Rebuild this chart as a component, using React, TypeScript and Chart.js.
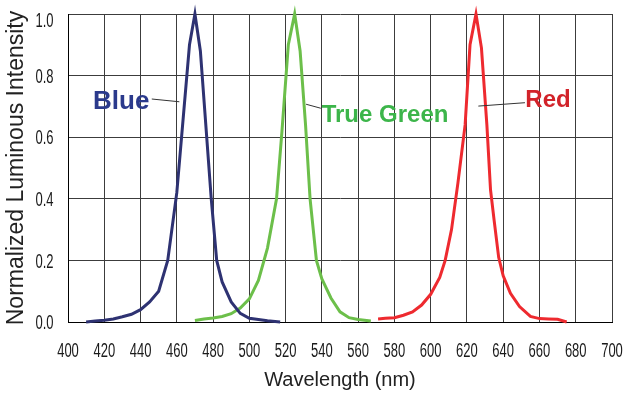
import { useEffect, useRef } from "react";
import { Chart, registerables } from "chart.js";

Chart.register(...registerables);

const xMin = 400;
const xMax = 700;
const xStep = 20;
const yMin = 0;
const yMax = 1;
const yStep = 0.2;

const blueNm = [410, 415, 420, 425, 430, 435, 440, 445, 450, 455, 460, 467, 470, 473, 479, 482, 485, 490, 495, 500, 505, 510, 517];
const blueVal = [0, 0.003, 0.006, 0.01, 0.017, 0.025, 0.04, 0.065, 0.1, 0.2, 0.42, 0.9, 1.0, 0.88, 0.4, 0.2, 0.13, 0.065, 0.028, 0.012, 0.008, 0.004, 0];

const greenNm = [470, 475, 480, 485, 490, 495, 500, 505, 510, 515, 518, 521.5, 525, 528, 531, 533.5, 537, 540, 545, 550, 555, 560, 567];
const greenVal = [0.005, 0.01, 0.013, 0.018, 0.027, 0.045, 0.075, 0.135, 0.24, 0.4, 0.62, 0.9, 1.0, 0.88, 0.64, 0.4, 0.2, 0.14, 0.078, 0.033, 0.014, 0.008, 0.003];

const redNm = [571, 575, 580, 585, 590, 595, 600, 605, 608, 611.5, 615, 619, 621.7, 625, 628, 631, 633, 635, 637.5, 640, 644, 649, 655, 660, 665, 670, 675];
const redVal = [0.01, 0.012, 0.014, 0.022, 0.033, 0.055, 0.09, 0.145, 0.2, 0.3, 0.45, 0.64, 0.9, 1.0, 0.89, 0.64, 0.43, 0.33, 0.21, 0.15, 0.093, 0.05, 0.018, 0.011, 0.01, 0.009, 0];

const seriesNames = ["Blue", "True Green", "Red"];

const toPoints = (nm: number[], v: number[]) => nm.map((x, i) => ({ x, y: v[i] }));

const condensedTicksPlugin = {
  id: "condensedTicks",
  afterDraw(chart: any) {
    const { ctx, scales } = chart;
    const xs = scales.x;
    const ys = scales.y;
    const squeeze = 0.65;
    ctx.save();
    ctx.font = '20px "Liberation Sans", Arial, sans-serif';
    ctx.fillStyle = "#1a1a1a";
    ctx.textBaseline = "alphabetic";
    xs.ticks.forEach((t: any, i: number) => {
      const px = xs.getPixelForTick(i);
      ctx.save();
      ctx.translate(px, xs.top + 35);
      ctx.scale(squeeze, 1);
      ctx.textAlign = "center";
      ctx.fillText(String(t.value), 0, 0);
      ctx.restore();
    });
    ys.ticks.forEach((t: any, i: number) => {
      const py = Math.max(ys.getPixelForTick(i), 19.5);
      ctx.save();
      ctx.translate(ys.right - 14.5, py + 7.1);
      ctx.scale(squeeze, 1);
      ctx.textAlign = "right";
      ctx.fillText(Number(t.value).toFixed(1), 0, 0);
      ctx.restore();
    });
    ctx.restore();
  },
};

const labelPlugin = {
  id: "seriesLabels",
  afterDatasetsDraw(chart: any) {
    const { ctx, scales } = chart;
    const xs = scales.x;
    const ys = scales.y;
    const items = [
      { text: seriesNames[0], color: "#2b3a8c", size: 26, at: [413.8, 0.69], line: [[446.2, 0.724], [461.4, 0.715]] },
      { text: seriesNames[1], color: "#3cb54a", size: 24, at: [539.9, 0.65], line: [[531.3, 0.707], [539.4, 0.694]] },
      { text: seriesNames[2], color: "#d2232a", size: 24, at: [652.2, 0.697], line: [[626.3, 0.701], [652, 0.712]] },
    ];
    ctx.save();
    for (const it of items) {
      ctx.beginPath();
      ctx.strokeStyle = "#333";
      ctx.lineWidth = 1;
      ctx.moveTo(xs.getPixelForValue(it.line[0][0]), ys.getPixelForValue(it.line[0][1]));
      ctx.lineTo(xs.getPixelForValue(it.line[1][0]), ys.getPixelForValue(it.line[1][1]));
      ctx.stroke();
      ctx.font = `bold ${it.size}px "Liberation Sans", Arial, sans-serif`;
      ctx.fillStyle = it.color;
      ctx.textBaseline = "alphabetic";
      ctx.textAlign = "left";
      ctx.fillText(it.text, xs.getPixelForValue(it.at[0]), ys.getPixelForValue(it.at[1]));
    }
    ctx.restore();
  },
};

export default function App() {
  const ref = useRef<HTMLCanvasElement | null>(null);
  useEffect(() => {
    document.body.style.margin = "0";
    if (!ref.current) return;
    const chart = new Chart(ref.current, {
      type: "line",
      data: {
        datasets: [
          { label: seriesNames[0], data: toPoints(blueNm, blueVal), borderColor: "#2e3272", borderWidth: 3, pointRadius: 0, tension: 0, clip: false } as any,
          { label: seriesNames[1], data: toPoints(greenNm, greenVal), borderColor: "#6cbf4a", borderWidth: 3, pointRadius: 0, tension: 0, clip: false } as any,
          { label: seriesNames[2], data: toPoints(redNm, redVal), borderColor: "#ee2a2f", borderWidth: 3, pointRadius: 0, tension: 0, clip: false } as any,
        ],
      },
      options: {
        animation: false,
        responsive: false,
        devicePixelRatio: 1,
        layout: { padding: { top: 14, right: 11, left: 0, bottom: 0 } },
        plugins: { legend: { display: false }, tooltip: { enabled: false } },
        scales: {
          x: {
            type: "linear",
            min: xMin,
            max: xMax,
            ticks: { stepSize: xStep, display: false },
            grid: { color: "#3c3c3c", lineWidth: 1, drawTicks: false },
            border: { color: "#000", width: 1 },
            title: { display: true, text: "Wavelength (nm)", color: "#222", font: { family: '"Liberation Sans", Arial, sans-serif', size: 20 }, padding: { top: 0, bottom: 2 } },
            afterFit: (s: any) => { s.height = 72; s.paddingLeft = 0; s.paddingRight = 0; },
          },
          y: {
            min: yMin,
            max: yMax,
            ticks: { stepSize: yStep, display: false },
            grid: { color: "#3c3c3c", lineWidth: 1, drawTicks: false },
            border: { color: "#000", width: 1 },
            title: { display: true, text: "Normalized Luminous Intensity", color: "#222", font: { family: '"Liberation Sans", Arial, sans-serif', size: 23 }, padding: { top: 3, bottom: 0 } },
            afterFit: (s: any) => { s.width = 68; s.paddingTop = 0; s.paddingBottom = 0; },
          },
        },
      },
      plugins: [labelPlugin, condensedTicksPlugin],
    } as any);
    return () => chart.destroy();
  }, []);
  return <canvas ref={ref} width={623} height={394} style={{ display: "block" }} />;
}
